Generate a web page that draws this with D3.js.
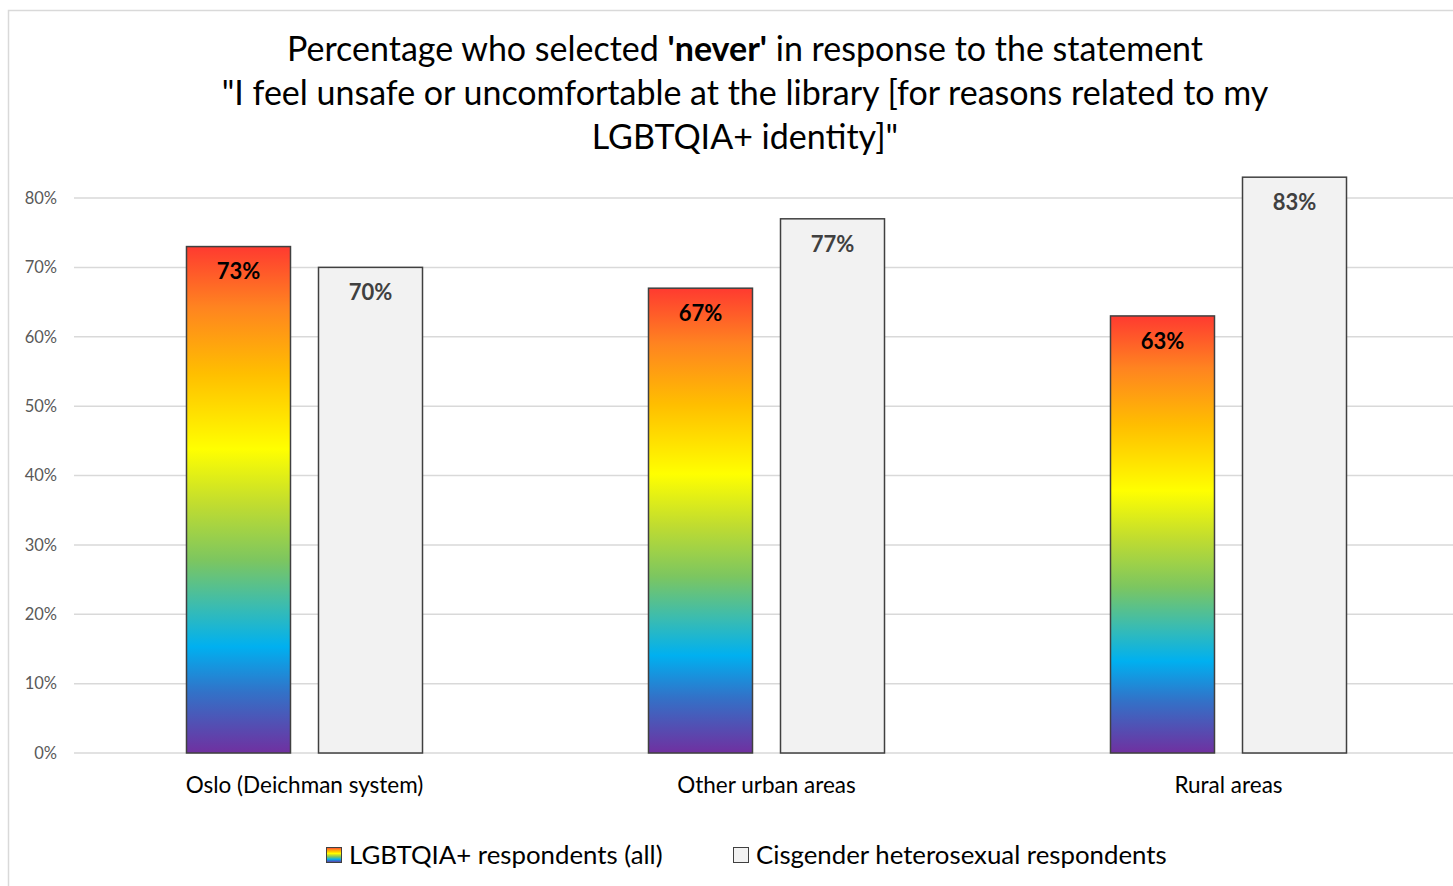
<!DOCTYPE html>
<html>
<head>
<meta charset="utf-8">
<script src="https://cdn.jsdelivr.net/npm/d3@7"></script>
<style>
  html, body { margin: 0; padding: 0; background: #fff; }
  svg { display: block; font-family: Lato, "Open Sans", sans-serif; }
</style>
</head>
<body>
<svg id="chart" width="1453" height="886"></svg>
<script>
// Regions surveyed and the two respondent groups
const categories = ["Oslo (Deichman system)", "Other urban areas", "Rural areas"];
const seriesNames = ["LGBTQIA+ respondents (all)", "Cisgender heterosexual respondents"];
const lgbtqValues = [0.73, 0.67, 0.63];
const cisValues = [0.70, 0.77, 0.83];
const tickValues = [0, 0.1, 0.2, 0.3, 0.4, 0.5, 0.6, 0.7, 0.8];

const rows = categories.map((c, i) => ({
  category: c,
  values: [
    { series: seriesNames[0], value: lgbtqValues[i] },
    { series: seriesNames[1], value: cisValues[i] }
  ]
}));

const svg = d3.select("#chart");

// Outer chart frame
svg.append("rect")
  .attr("x", 8.5).attr("y", 10.5)
  .attr("width", 1480).attr("height", 900)
  .attr("fill", "#fff").attr("stroke", "#d9d9d9").attr("stroke-width", 1.5);

// Rainbow fill, applied per bar from top to bottom
const defs = svg.append("defs");
const grad = defs.append("linearGradient")
  .attr("id", "rainbow")
  .attr("x1", 0).attr("y1", 0).attr("x2", 0).attr("y2", 1);
const stops = [
  [0, "#ff3a30"], [0.12, "#ff8420"], [0.25, "#ffbe00"], [0.4, "#ffff00"],
  [0.51, "#c0dc30"], [0.62, "#7cc660"], [0.71, "#3bbcb0"], [0.79, "#00b0f0"],
  [0.88, "#3272c8"], [1, "#7030a0"]
];
stops.forEach(([o, c]) => grad.append("stop").attr("offset", o).attr("stop-color", c));

// Scales
const x0 = d3.scaleBand().domain(categories).range([73.5, 1459.5]);
const x1 = d3.scaleBand().domain(seriesNames).range([0, x0.bandwidth()])
  .paddingInner(28 / 132).paddingOuter(0.856);
const y = d3.scaleLinear().domain([0, 0.8]).range([753, 198]);

// Gridlines
const grid = svg.append("g").attr("class", "grid");
grid.selectAll("line").data(tickValues).join("line")
  .attr("x1", 74).attr("x2", 1460)
  .attr("y1", d => y(d)).attr("y2", d => y(d))
  .attr("stroke", "#d9d9d9").attr("stroke-width", 1.5);

// Y axis labels
const yAxis = d3.axisLeft(y).tickValues(tickValues).tickFormat(d3.format(".0%")).tickSize(0).tickPadding(0);
const yg = svg.append("g").attr("transform", "translate(57,0)").call(yAxis);
yg.select(".domain").remove();
yg.selectAll("text")
  .attr("fill", "#595959").attr("font-size", 16.5).attr("font-family", "Lato, sans-serif");

// Bars
const groups = svg.append("g").selectAll("g").data(rows).join("g")
  .attr("transform", d => `translate(${x0(d.category)},0)`);

groups.selectAll("rect").data(d => d.values).join("rect")
  .attr("x", d => x1(d.series))
  .attr("width", x1.bandwidth())
  .attr("y", d => y(d.value))
  .attr("height", d => y(0) - y(d.value))
  .attr("fill", d => d.series === seriesNames[0] ? "url(#rainbow)" : "#f2f2f2")
  .attr("stroke", "#404040").attr("stroke-width", 1.5);

// Value labels inside bar tops
groups.selectAll("text.val").data(d => d.values).join("text")
  .attr("class", "val")
  .attr("x", d => x1(d.series) + x1.bandwidth() / 2)
  .attr("y", d => y(d.value) + 25)
  .attr("dy", "0.35em")
  .attr("text-anchor", "middle")
  .attr("font-weight", "bold")
  .attr("font-size", 22)
  .attr("fill", d => d.series === seriesNames[0] ? "#000" : "#404040")
  .text(d => d3.format(".0%")(d.value));

// Category axis labels
const xAxis = d3.axisBottom(x0).tickSize(0).tickPadding(0);
const xg = svg.append("g").attr("transform", "translate(0,785)").call(xAxis);
xg.select(".domain").remove();
xg.selectAll("text")
  .attr("dy", "0.35em").attr("y", 0)
  .attr("fill", "#000").attr("font-size", 22.5).attr("font-family", "Lato, sans-serif");

// Title
const title = svg.append("text").attr("text-anchor", "middle").attr("font-size", 34).attr("fill", "#000");
const l1 = title.append("tspan").attr("x", 745).attr("y", 61);
l1.append("tspan").text("Percentage who selected ");
l1.append("tspan").attr("font-weight", "bold").text("'never'");
l1.append("tspan").text(" in response to the statement");
title.append("tspan").attr("x", 745).attr("y", 105)
  .text("\"I feel unsafe or uncomfortable at the library [for reasons related to my");
title.append("tspan").attr("x", 745).attr("y", 149)
  .text("LGBTQIA+ identity]\"");

// Legend
const legendItems = [
  { name: seriesNames[0], fill: "url(#rainbow)", x: 326 },
  { name: seriesNames[1], fill: "#f2f2f2", x: 733 }
];
const lg = svg.append("g").selectAll("g").data(legendItems).join("g")
  .attr("transform", d => `translate(${d.x},855)`);
lg.append("rect")
  .attr("x", 0.5).attr("y", -7.5).attr("width", 15).attr("height", 15)
  .attr("fill", d => d.fill).attr("stroke", "#404040").attr("stroke-width", 1);
lg.append("text")
  .attr("x", 23).attr("y", 0).attr("dy", "0.35em")
  .attr("font-size", 25.8).attr("fill", "#000")
  .text(d => d.name);
</script>
</body>
</html>
